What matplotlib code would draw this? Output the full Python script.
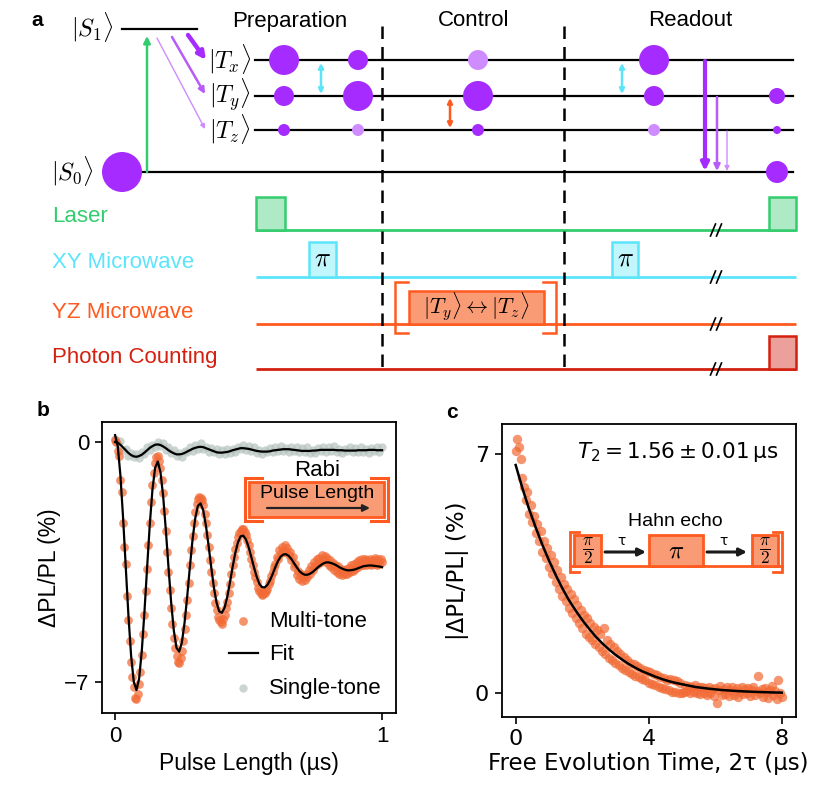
import numpy as np
import matplotlib
matplotlib.use('Agg')
import matplotlib.pyplot as plt
from matplotlib.patches import Circle, Rectangle, FancyArrowPatch

plt.rcParams['mathtext.fontset'] = 'cm'
SANS = 'Liberation Sans'

# ---------------- data: panel b (Rabi) ----------------
RABI_MULTI = [0.05, 0.00, -0.25, -0.40, -1.10, -1.45, -2.35, -3.05, -3.55, -4.50,
              -5.20, -5.80, -6.40, -6.85, -7.15, -7.45, -7.50, -7.35, -7.05, -6.70,
              -6.20, -5.60, -5.05, -4.35, -3.70, -3.00, -2.35, -1.75, -1.25, -0.90,
              -0.62, -0.45, -0.40, -0.55, -0.75, -1.10, -1.50, -2.00, -2.60, -3.20,
              -3.80, -4.30, -4.85, -5.30, -5.70, -6.00, -6.25, -6.40, -6.45, -6.30,
              -6.10, -5.80, -5.45, -5.05, -4.60, -4.10, -3.60, -3.15, -2.75, -2.35,
              -2.05, -1.80, -1.65, -1.60, -1.62, -1.70, -1.85, -2.10, -2.35, -2.70,
              -3.05, -3.45, -3.80, -4.10, -4.40, -4.70, -4.90, -5.10, -5.20, -5.25,
              -5.30, -5.15, -5.05, -4.85, -4.65, -4.40, -4.15, -3.85, -3.60, -3.35,
              -3.12, -2.95, -2.78, -2.65, -2.58, -2.55, -2.55, -2.62, -2.70, -2.85,
              -3.00, -3.20, -3.40, -3.60, -3.78, -3.95, -4.08, -4.25, -4.35, -4.40,
              -4.45, -4.42, -4.40, -4.35, -4.28, -4.15, -4.05, -3.90, -3.80, -3.65,
              -3.55, -3.35, -3.40, -3.15, -3.25, -3.05, -3.20, -3.00, -3.22, -3.08,
              -3.30, -3.20, -3.45, -3.35, -3.65, -3.55, -3.88, -3.75, -3.98, -3.85,
              -4.05, -3.90, -4.02, -3.85, -3.95, -3.72, -3.85, -3.62, -3.72, -3.50,
              -3.62, -3.42, -3.55, -3.38, -3.50, -3.30, -3.45, -3.32, -3.50, -3.38,
              -3.58, -3.45, -3.65, -3.52, -3.72, -3.58, -3.78, -3.62, -3.85, -3.70,
              -3.88, -3.72, -3.86, -3.70, -3.85, -3.68, -3.80, -3.60, -3.75, -3.55,
              -3.70, -3.50, -3.65, -3.45, -3.60, -3.42, -3.58, -3.40, -3.60, -3.45,
              -3.55, -3.40, -3.58, -3.45, -3.55, -3.38, -3.60, -3.42, -3.55, -3.40,
              -3.50]
RABI_MULTI_FIT = [0.20, -0.12, -0.98, -2.21, -3.65, -5.06, -6.23, -6.99, -7.23, -6.90,
                  -6.09, -4.95, -3.65, -2.40, -1.38, -0.75, -0.57, -0.88, -1.58, -2.56,
                  -3.65, -4.68, -5.50, -6.00, -6.11, -5.85, -5.28, -4.51, -3.65, -2.85,
                  -2.23, -1.86, -1.79, -1.99, -2.43, -3.01, -3.65, -4.24, -4.68, -4.94,
                  -4.98, -4.83, -4.52, -4.10, -3.65, -3.24, -2.93, -2.75, -2.73, -2.84,
                  -3.06, -3.35, -3.65, -3.92, -4.13, -4.23, -4.24, -4.17, -4.03, -3.85,
                  -3.65, -3.47, -3.34, -3.28, -3.27, -3.32, -3.41, -3.53, -3.65, -3.76,
                  -3.83, -3.87, -3.87, -3.84, -3.79, -3.72, -3.65, -3.59, -3.54, -3.51,
                  -3.51, -3.53, -3.56, -3.60, -3.65, -3.69, -3.72, -3.74, -3.74, -3.73,
                  -3.71, -3.68, -3.65, -3.62, -3.61, -3.60, -3.60, -3.61, -3.62, -3.63,
                  -3.65]
RABI_SINGLE = [0.08, -0.06, 0.02, -0.22, -0.21, -0.40, -0.32, -0.44, -0.34, -0.46,
               -0.29, -0.35, -0.14, -0.23, -0.09, -0.16, -0.01, -0.11, -0.04, -0.23,
               -0.16, -0.33, -0.23, -0.42, -0.33, -0.43, -0.26, -0.30, -0.15, -0.25,
               -0.09, -0.19, -0.04, -0.21, -0.15, -0.29, -0.18, -0.29, -0.21, -0.36,
               -0.23, -0.34, -0.19, -0.33, -0.21, -0.30, -0.14, -0.20, -0.09, -0.24,
               -0.12, -0.26, -0.14, -0.32, -0.24, -0.36, -0.22, -0.30, -0.18, -0.30,
               -0.16, -0.27, -0.12, -0.27, -0.18, -0.29, -0.16, -0.25, -0.15, -0.30,
               -0.18, -0.30, -0.16, -0.32, -0.22, -0.33, -0.18, -0.25, -0.14, -0.28,
               -0.15, -0.27, -0.13, -0.30, -0.21, -0.32, -0.19, -0.27, -0.16, -0.30,
               -0.17, -0.28, -0.14, -0.30, -0.21, -0.31, -0.17, -0.25, -0.15, -0.29,
               -0.16]
RABI_SINGLE_FIT = [0.00, -0.02, -0.08, -0.16, -0.24, -0.32, -0.38, -0.42, -0.43, -0.41,
                   -0.37, -0.31, -0.24, -0.17, -0.12, -0.08, -0.07, -0.09, -0.13, -0.18,
                   -0.24, -0.29, -0.33, -0.36, -0.36, -0.35, -0.32, -0.28, -0.24, -0.20,
                   -0.17, -0.15, -0.14, -0.15, -0.18, -0.21, -0.24, -0.27, -0.30, -0.31,
                   -0.31, -0.30, -0.29, -0.27, -0.24, -0.22, -0.20, -0.18, -0.18, -0.19,
                   -0.20, -0.22, -0.24, -0.26, -0.27, -0.28, -0.28, -0.28, -0.27, -0.25,
                   -0.24, -0.23, -0.22, -0.21, -0.21, -0.21, -0.22, -0.23, -0.24, -0.25,
                   -0.26, -0.26, -0.26, -0.26, -0.25, -0.25, -0.24, -0.23, -0.23, -0.23,
                   -0.23, -0.23, -0.23, -0.24, -0.24, -0.24, -0.25, -0.25, -0.25, -0.25,
                   -0.25, -0.24, -0.24, -0.24, -0.24, -0.23, -0.23, -0.23, -0.24, -0.24,
                   -0.24]
RABI_XMAX = 1.0
RABI_XTICKS = [0, 1]
RABI_YTICKS = [-7, 0]
RABI_YTICKLABELS = ['\u22127', '0']

# ---------------- data: panel c (Hahn echo) ----------------
ECHO_DATA = [7.10, 7.45, 7.20, 6.85, 6.30, 6.05, 5.65, 5.90, 5.25, 5.50,
             5.00, 5.20, 4.70, 4.95, 4.45, 4.75, 4.15, 4.45, 3.95, 4.25,
             3.70, 4.05, 3.50, 3.85, 3.25, 3.60, 3.05, 3.40, 2.85, 3.20,
             2.70, 3.05, 2.50, 2.90, 2.35, 2.75, 2.20, 2.60, 2.05, 2.45,
             1.90, 2.30, 1.75, 2.20, 1.65, 2.05, 1.55, 1.95, 1.45, 1.85,
             1.35, 1.75, 1.25, 1.90, 1.15, 1.55, 1.05, 1.45, 0.98, 1.35,
             0.90, 1.25, 0.82, 1.15, 0.75, 1.08, 0.70, 0.98, 0.62, 0.90,
             0.58, 0.85, 0.52, 0.80, 0.48, 0.75, 0.42, 0.70, 0.38, 0.65,
             0.32, 0.62, 0.28, 0.58, 0.25, 0.55, 0.18, 0.48, 0.15, 0.45,
             0.12, 0.40, 0.10, 0.42, 0.05, 0.38, 0.05, 0.35, 0.02, 0.32,
             0.00, 0.05, 0.25, 0.08, 0.22, 0.02, 0.20, 0.05, 0.25, 0.00,
             0.18, -0.02, 0.20, 0.02, 0.15, -0.05, 0.18, 0.00, 0.12, -0.08,
             0.15, -0.29, 0.10, 0.22, -0.05, 0.12, -0.02, 0.18, -0.08, 0.10,
             0.20, -0.05, 0.08, 0.15, -0.10, 0.05, 0.18, -0.02, 0.12, 0.02,
             0.15, -0.08, 0.10, 0.20, -0.05, 0.08, 0.50, 0.00, 0.12, -0.10,
             0.15, 0.05, -0.12, 0.10, 0.22, -0.05, 0.08, -0.15, 0.40, 0.02,
             -0.10]
ECHO_FIT = [6.68, 6.01, 5.40, 4.86, 4.35, 3.89, 3.47, 3.08, 2.73, 2.43,
            2.15, 1.90, 1.67, 1.47, 1.29, 1.13, 0.99, 0.86, 0.75, 0.65,
            0.57, 0.49, 0.42, 0.36, 0.31, 0.27, 0.23, 0.19, 0.165, 0.14,
            0.12, 0.10, 0.087, 0.074, 0.063, 0.054, 0.046, 0.039, 0.033, 0.028,
            0.024]
ECHO_XMAX = 8.0
ECHO_XTICKS = [0, 4, 8]
ECHO_YTICKS = [0, 7]

# ---------------- panel a schematic content ----------------
STAGES = ['Preparation', 'Control', 'Readout']
LEVELS = {'S1': 29, 'Tx': 60, 'Ty': 96, 'Tz': 130, 'S0': 172}
# populations drawn as circles: (x, level, radius, light?)
POPS = [(284, 'Tx', 15, 0), (358, 'Tx', 10, 0), (284, 'Ty', 10, 0), (358, 'Ty', 15, 0),
        (284, 'Tz', 6, 0), (358, 'Tz', 6, 1),
        (478, 'Tx', 10, 1), (478, 'Ty', 15, 0), (478, 'Tz', 6, 0),
        (654, 'Tx', 15, 0), (654, 'Ty', 10, 0), (654, 'Tz', 6, 1),
        (777, 'Ty', 8, 0), (777, 'Tz', 4, 0), (777, 'S0', 11, 0),
        (122, 'S0', 20, 0)]
CHANNELS = ['Laser', 'XY Microwave', 'YZ Microwave', 'Photon Counting']

# colours
PURPLE = '#A52BFF'
MPURPLE = '#B85CF7'
LPURPLE = '#CF8CFF'
GREEN = '#33CC6E'
GREEN_F = '#AEEAC6'
CYAN = '#5CE5FA'
CYAN_F = '#C2F6FD'
ORANGE = '#FF5A1F'
SALMON = '#F99C76'
RED = '#D4200F'
RED_F = '#EBA09B'
DOT_OR = '#F26A35'
DOT_GR = '#B5C3BE'

W, H = 832, 791
fig = plt.figure(figsize=(W / 100, H / 100), dpi=100)

# ================= panel b =================
axb = fig.add_axes([102 / W, 1 - 713 / H, 294 / W, 291 / H])
xm = np.linspace(0, RABI_XMAX, len(RABI_MULTI))
xf = np.linspace(0, RABI_XMAX, len(RABI_MULTI_FIT))
xs = np.linspace(0, RABI_XMAX, len(RABI_SINGLE))
xsf = np.linspace(0, RABI_XMAX, len(RABI_SINGLE_FIT))
h_single = axb.scatter(xs, RABI_SINGLE, s=36, color=DOT_GR, alpha=0.7, lw=0, zorder=2, label='Single-tone')
h_multi = axb.scatter(xm, RABI_MULTI, s=40, color=DOT_OR, alpha=0.72, lw=0, zorder=3, label='Multi-tone')
l_fit, = axb.plot(xf, RABI_MULTI_FIT, color='black', lw=1.6, zorder=4, label='Fit')
axb.plot(xsf, RABI_SINGLE_FIT, color='black', lw=1.6, zorder=4)
axb.set_xlim(-0.049, 1.052)
axb.set_ylim(-7.9, 0.583)
axb.set_xticks(RABI_XTICKS)
axb.set_xticklabels([str(t) for t in RABI_XTICKS], family=SANS, fontsize=16)
axb.set_yticks(RABI_YTICKS)
axb.set_yticklabels(RABI_YTICKLABELS, family=SANS, fontsize=16)
axb.tick_params(length=5, width=1.2, pad=4)
for sp in axb.spines.values():
    sp.set_linewidth(1.3)
axb.set_xlabel('Pulse Length (\u00b5s)', family=SANS, fontsize=16.5, labelpad=4)
axb.set_ylabel('\u0394PL/PL (%)', family=SANS, fontsize=16.5, labelpad=2)
leg = axb.legend(handles=[h_multi, l_fit, h_single], loc='lower right', frameon=False,
                 prop={'family': SANS, 'size': 16}, handlelength=1.3, handletextpad=0.5,
                 labelspacing=0.55, borderaxespad=0.25, scatterpoints=1)

# ================= panel c =================
axc = fig.add_axes([501.7 / W, 1 - 716.7 / H, 294 / W, 292.4 / H])
xe = np.linspace(0, ECHO_XMAX, len(ECHO_DATA))
xef = np.linspace(0, ECHO_XMAX, len(ECHO_FIT))
axc.scatter(xe, ECHO_DATA, s=46, color=DOT_OR, alpha=0.7, lw=0, zorder=2)
axc.plot(xef, ECHO_FIT, color='black', lw=1.8, zorder=3)
axc.set_xlim(-0.42, 8.42)
axc.set_ylim(-0.68, 7.87)
axc.set_xticks(ECHO_XTICKS)
axc.set_yticks(ECHO_YTICKS)
axc.tick_params(length=5, width=1.2, labelsize=16, pad=4)
for sp in axc.spines.values():
    sp.set_linewidth(1.3)
axc.set_xlabel('Free Evolution Time, 2\u03c4 (\u00b5s)', fontsize=16.5, labelpad=2)
axc.set_ylabel('|\u0394PL/PL| (%)', fontsize=16.5, labelpad=4)
axc.text(0.94, 0.905, r'$T_2 = 1.56 \pm 0.01\,\mathrm{\mu s}$', transform=axc.transAxes,
         ha='right', va='center', fontsize=15.5, math_fontfamily='dejavusans')

# ================= overlay (panel a + insets) =================
ov = fig.add_axes([0, 0, 1, 1], zorder=10)
ov.set_xlim(0, W)
ov.set_ylim(H, 0)
ov.axis('off')
ov.patch.set_alpha(0)

def txt(x, y, s, **kw):
    kw.setdefault('ha', 'center')
    kw.setdefault('va', 'center')
    ov.text(x, y, s, **kw)

# panel labels
txt(37, 20, 'a', family=SANS, fontsize=15, fontweight='bold')
txt(43, 411, 'b', family=SANS, fontsize=15, fontweight='bold')
txt(452, 412, 'c', family=SANS, fontsize=15, fontweight='bold')

# stage titles
for x, s in zip([290, 474, 690], STAGES):
    txt(x, 21, s, family=SANS, fontsize=16)

# level lines
ov.plot([122, 197], [LEVELS['S1']] * 2, color='black', lw=1.6, zorder=3)
for k in ['Tx', 'Ty', 'Tz']:
    ov.plot([255, 793], [LEVELS[k]] * 2, color='black', lw=1.6, zorder=3)
ov.plot([122, 793], [LEVELS['S0']] * 2, color='black', lw=1.6, zorder=3)

# ket labels
txt(92, 27, r'$|S_1\rangle$', fontsize=17.5)
txt(72, 171, r'$|S_0\rangle$', fontsize=17.5)
txt(230, 59, r'$|T_x\rangle$', fontsize=17.5)
txt(230, 95, r'$|T_y\rangle$', fontsize=17.5)
txt(230, 129, r'$|T_z\rangle$', fontsize=17.5)

# populations
for x, lv, r, light in POPS:
    ov.add_patch(Circle((x, LEVELS[lv]), r, color=LPURPLE if light else PURPLE, lw=0, zorder=5))

def arrow(p0, p1, color, lw, style='-|>', ms=12, z=4):
    ov.add_patch(FancyArrowPatch(p0, p1, arrowstyle=style, mutation_scale=ms, color=color,
                                 lw=lw, shrinkA=0, shrinkB=0, zorder=z))

# excitation
arrow((147, 172), (147, 36), GREEN, 1.8, ms=10)
# intersystem crossing
arrow((188, 35), (206, 60), PURPLE, 3.2, ms=11)
arrow((172, 37), (205, 94), MPURPLE, 1.8, ms=9)
arrow((157, 38), (205, 129), LPURPLE, 1.0, ms=7)
# microwave transitions
arrow((321, 63), (321, 94), CYAN, 1.8, style='<|-|>', ms=7)
arrow((622, 63), (622, 94), CYAN, 1.8, style='<|-|>', ms=7)
arrow((450, 98), (450, 128), ORANGE, 1.8, style='<|-|>', ms=7)
# readout decay
arrow((705, 61), (705, 171), PURPLE, 3.0, ms=11)
arrow((717, 97), (717, 171), MPURPLE, 1.8, ms=9)
arrow((727, 131), (727, 171), LPURPLE, 1.0, ms=7)

# dashed separators
for x in [382, 564]:
    ov.plot([x, x], [26, 373], color='black', lw=1.8, ls=(0, (5, 3.2)), zorder=6)

# channels
ch_colors = [GREEN, CYAN, ORANGE, RED]
ch_label_y = [217, 263, 312, 357]
ch_line_y = [230, 277, 324, 369]
for name, c, ly, y in zip(CHANNELS, ch_colors, ch_label_y, ch_line_y):
    txt(52, ly, name, family=SANS, fontsize=16, color=c, ha='left')
    ov.plot([256, 796], [y, y], color=c, lw=2.0, zorder=3, solid_capstyle='butt')
    for dx in [-3, 3]:
        ov.plot([716 + dx - 2.5, 716 + dx + 2.5], [y + 6, y - 6], color='black', lw=1.2, zorder=7)

def box(x0, x1, y0, y1, fc, ec, lw=1.8, z=4):
    ov.add_patch(Rectangle((x0, y0), x1 - x0, y1 - y0, fc=fc, ec=ec, lw=lw, zorder=z))

# laser pulses
box(256, 285, 197, 230, GREEN_F, GREEN)
box(769, 796, 197, 230, GREEN_F, GREEN)
# XY pi pulses
box(309, 336, 242, 277, CYAN_F, CYAN)
box(612, 638, 242, 277, CYAN_F, CYAN)
txt(322.5, 258, r'$\pi$', fontsize=19, zorder=8)
txt(625, 258, r'$\pi$', fontsize=19, zorder=8)
# YZ control pulse
box(409, 544, 291, 324, SALMON, ORANGE)
txt(476, 307, r'$|T_y\rangle \leftrightarrow |T_z\rangle$', fontsize=16, zorder=8)

def bracket(x, y0, y1, cap, color, lw=1.8):
    ov.plot([x + cap, x, x, x + cap], [y0, y0, y1, y1], color=color, lw=lw, zorder=6,
            solid_joinstyle='miter')

bracket(395, 282, 333, 13, ORANGE)
bracket(556, 282, 333, -13, ORANGE)
# photon counting
box(769, 796, 336, 369, RED_F, RED)

# ---- Rabi inset (panel b) ----
txt(317, 470, 'Rabi', family=SANS, fontsize=16)
box(249, 384, 482, 517, SALMON, ORANGE, lw=2.0, z=11)
txt(317, 493, 'Pulse Length', family=SANS, fontsize=14, zorder=12)
ov.add_patch(FancyArrowPatch((267, 508), (370, 508), arrowstyle='-|>', mutation_scale=10,
                             color='#222222', lw=1.6, shrinkA=0, shrinkB=0, zorder=12))
bracket(245, 478, 521, 17, ORANGE, lw=2.2)
bracket(388, 478, 521, -17, ORANGE, lw=2.2)

# ---- Hahn echo inset (panel c) ----
txt(675, 522, 'Hahn echo', family=SANS, fontsize=14)
ov.plot([570, 782], [566, 566], color=ORANGE, lw=2.0, zorder=11)
box(574, 601, 535, 566, SALMON, ORANGE, lw=2.0, z=11)
box(649, 703, 535, 566, SALMON, ORANGE, lw=2.0, z=11)
box(752, 778, 535, 566, SALMON, ORANGE, lw=2.0, z=11)
txt(587.5, 551, r'$\dfrac{\pi}{2}$', fontsize=12.5, zorder=12)
txt(676, 551, r'$\pi$', fontsize=18, zorder=12)
txt(765, 551, r'$\dfrac{\pi}{2}$', fontsize=12.5, zorder=12)
for x0, x1 in [(605, 646), (707, 747)]:
    ov.add_patch(FancyArrowPatch((x0, 552), (x1, 552), arrowstyle='-|>', mutation_scale=11,
                                 color='#1a1a1a', lw=2.2, shrinkA=0, shrinkB=0, zorder=12))
    txt((x0 + x1) / 2 - 4, 541, '\u03c4', fontsize=10, zorder=12)
bracket(570, 532, 572, 9, ORANGE, lw=2.0)
bracket(782, 532, 572, -9, ORANGE, lw=2.0)

fig.savefig('out.png', dpi=100)
